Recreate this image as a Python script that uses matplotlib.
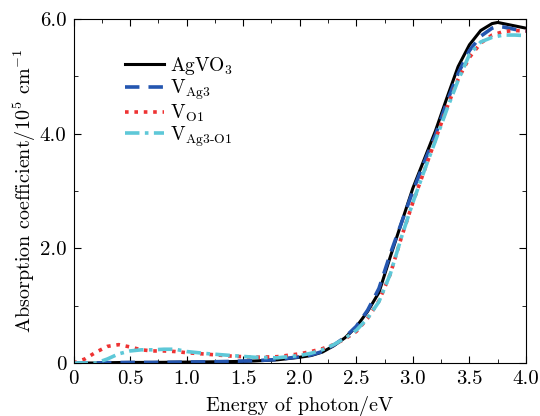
import numpy as np
import matplotlib as mpl
mpl.use('Agg')
import matplotlib.pyplot as plt
from matplotlib.ticker import MultipleLocator, FuncFormatter

# photon energy (eV) and absorption coefficient (1e5 cm^-1)
energy = [0.0, 0.1, 0.2, 0.3, 0.4, 0.5, 0.6, 0.7, 0.8, 0.9, 1.0, 1.2, 1.4, 1.6, 1.8, 2.0,
          2.1, 2.2, 2.3, 2.4, 2.5, 2.6, 2.7, 2.8, 2.9, 3.0, 3.1, 3.2, 3.3, 3.4, 3.5, 3.6,
          3.7, 3.75, 3.8, 3.9, 4.0]
agvo3 = [0.0, 0.0, 0.0, 0.005, 0.008, 0.01, 0.01, 0.01, 0.012, 0.014, 0.016, 0.02, 0.025,
         0.035, 0.055, 0.1, 0.13, 0.19, 0.3, 0.44, 0.63, 0.9, 1.23, 1.85, 2.45, 3.05, 3.55,
         4.05, 4.62, 5.17, 5.55, 5.8, 5.92, 5.94, 5.92, 5.88, 5.84]
v_ag3 = [0.0, 0.0, 0.0, 0.005, 0.008, 0.01, 0.01, 0.01, 0.012, 0.014, 0.016, 0.02, 0.028,
         0.04, 0.06, 0.11, 0.14, 0.2, 0.31, 0.45, 0.64, 0.92, 1.3, 1.9, 2.45, 3.0, 3.5,
         3.98, 4.55, 5.05, 5.45, 5.7, 5.84, 5.87, 5.86, 5.82, 5.79]
v_o1 = [0.0, 0.07, 0.19, 0.29, 0.32, 0.28, 0.23, 0.21, 0.21, 0.2, 0.18, 0.15, 0.12, 0.1,
        0.11, 0.16, 0.2, 0.25, 0.32, 0.42, 0.55, 0.78, 1.08, 1.55, 2.2, 2.8, 3.35, 3.9,
        4.45, 4.95, 5.33, 5.58, 5.72, 5.75, 5.78, 5.8, 5.79]
v_ag3_o1 = [0.0, 0.0, 0.0, 0.07, 0.16, 0.21, 0.23, 0.23, 0.24, 0.24, 0.2, 0.16, 0.13, 0.1,
            0.09, 0.13, 0.17, 0.23, 0.32, 0.43, 0.57, 0.78, 1.07, 1.55, 2.2, 2.8, 3.35,
            3.88, 4.42, 4.93, 5.38, 5.6, 5.68, 5.7, 5.72, 5.72, 5.71]

labels = [r'AgVO$_3$', r'V$_{\rm Ag3}$', r'V$_{\rm O1}$', r'V$_{\text{Ag3-O1}}$']

plt.rcParams['font.family'] = 'serif'
plt.rcParams['font.serif'] = ['cmr10', 'DejaVu Serif']
plt.rcParams['mathtext.fontset'] = 'cm'
plt.rcParams['axes.unicode_minus'] = False
plt.rcParams['axes.formatter.use_mathtext'] = True

fig = plt.figure(figsize=(5.4, 4.16), dpi=100)
ax = fig.add_axes([73.5 / 540, 1 - 363 / 416, (526 - 73.5) / 540, (363 - 19) / 416])

ax.plot(energy, agvo3, color='black', lw=2.2, label=labels[0])
ax.plot(energy, v_ag3, color='#2456b0', lw=2.6, ls=(0, (4, 2.5)), label=labels[1])
ax.plot(energy, v_o1, color='#ee3333', lw=2.6, ls=(0, (1, 1.6)), label=labels[2])
ax.plot(energy, v_ag3_o1, color='#5ec8d8', lw=2.6, ls=(0, (4, 1.5, 1, 1.5)), label=labels[3])

ax.set_xlim(0, 4.0)
ax.set_ylim(0, 6.0)
ax.xaxis.set_major_locator(MultipleLocator(0.5))
ax.xaxis.set_minor_locator(MultipleLocator(0.25))
ax.yaxis.set_major_locator(MultipleLocator(2.0))
ax.yaxis.set_minor_locator(MultipleLocator(1.0))
fmt = FuncFormatter(lambda v, p: '0' if abs(v) < 1e-9 else '%.1f' % v)
ax.xaxis.set_major_formatter(fmt)
ax.yaxis.set_major_formatter(fmt)
ax.tick_params(which='both', direction='in', top=True, right=True, labelsize=15, pad=5)
ax.tick_params(which='major', length=5)
ax.tick_params(which='minor', length=3)

ax.set_xlabel('Energy of photon/eV', fontsize=14.5, labelpad=6)
ax.set_ylabel(r'Absorption coefficient/10$^5$ cm$^{-1}$', fontsize=14.5, labelpad=1)

ax.legend(loc='upper left', bbox_to_anchor=(0.114, 0.895), frameon=False, fontsize=14,
          handlelength=2.0, labelspacing=0.02, handletextpad=0.3, borderpad=0,
          borderaxespad=0)

fig.savefig('out.png', dpi=100)
